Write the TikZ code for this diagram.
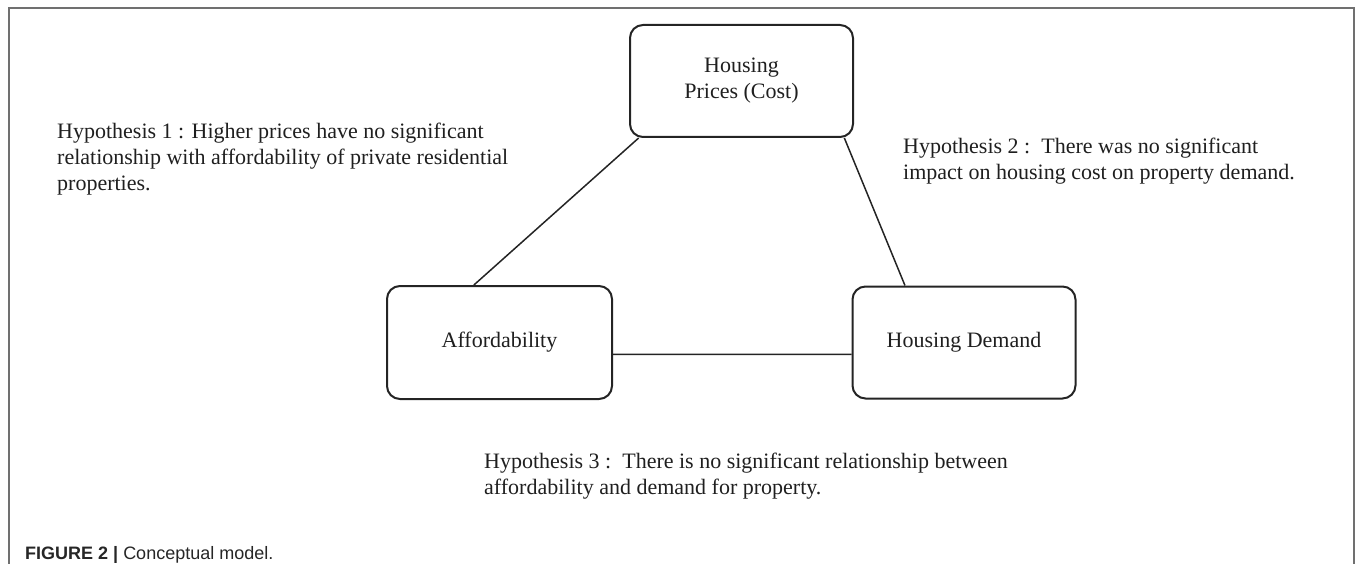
\documentclass[tikz,border=0pt]{standalone}
\usepackage{fontspec}
\setmainfont{Liberation Serif}
\setsansfont{Liberation Sans}
\usepackage{tikz}
\usetikzlibrary{positioning}
\usetikzlibrary{calc}
\definecolor{framegray}{HTML}{707070}
\definecolor{boxline}{HTML}{242424}
\tikzset{
	conceptbox/.style={draw=boxline, line width=2pt, rounded corners=13pt,
		minimum width=223pt, minimum height=112pt, align=center, inner sep=0pt,
		font=\fontsize{22}{26}\selectfont, text=black!88},
	hyptext/.style={anchor=base west, align=left, inner sep=0pt,
		font=\fontsize{22}{26}\selectfont, text=black!88},
	link/.style={draw=boxline, line width=1.5pt},
}

\begin{document}
\begin{tikzpicture}[x=1pt, y=-1pt]
	
	\useasboundingbox (0,0) rectangle (1355,564);
	
	% open frame: left side, top, right side (no bottom edge)
	\coordinate (F1) at (9,564);
	\coordinate (F2) at (9,8);
	\coordinate (F3) at (1354,8);
	\coordinate (F4) at (1354,564);
	\draw[framegray, line width=1.3pt] (F1) -- (F2) -- (F3) -- (F4);
	
	% the three concepts
	\node[conceptbox] (Cost) at (741.5,81) {Housing\\Prices (Cost)};
	\node[conceptbox, minimum width=225pt, minimum height=113pt] (Afford) at (499.5,342.5) {Affordability};
	\node[conceptbox] (Demand) at (964,342.5) {Housing Demand};
	
	% links, attached with angle anchors
	\draw[link] (Afford.114) -- (Cost.209);
	\draw[link] (Cost.331) -- (Demand.136);
	\draw[link] (Afford.-6) -- (Demand.186);
	
	% hypotheses (base = baseline of the last line)
	\node[hyptext] (HypOne) at (57,191) {Hypothesis 1 : Higher prices have no significant\\relationship with affordability of private residential\\properties.};
	\node[hyptext] (HypTwo) at (903,180) {Hypothesis 2 :\ \ There was no significant\\impact on housing cost on property demand.};
	\node[hyptext] (HypThree) at (484,494) {Hypothesis 3 :\ \ There is no significant relationship between\\affordability and demand for property.};
	
	% caption
	\node[anchor=base west, inner sep=0pt, font=\sffamily\fontsize{18}{22}\selectfont, text=black!85] (Caption) at (25,559) {\textbf{FIGURE 2 |} Conceptual model.};
	
\end{tikzpicture}
\end{document}
